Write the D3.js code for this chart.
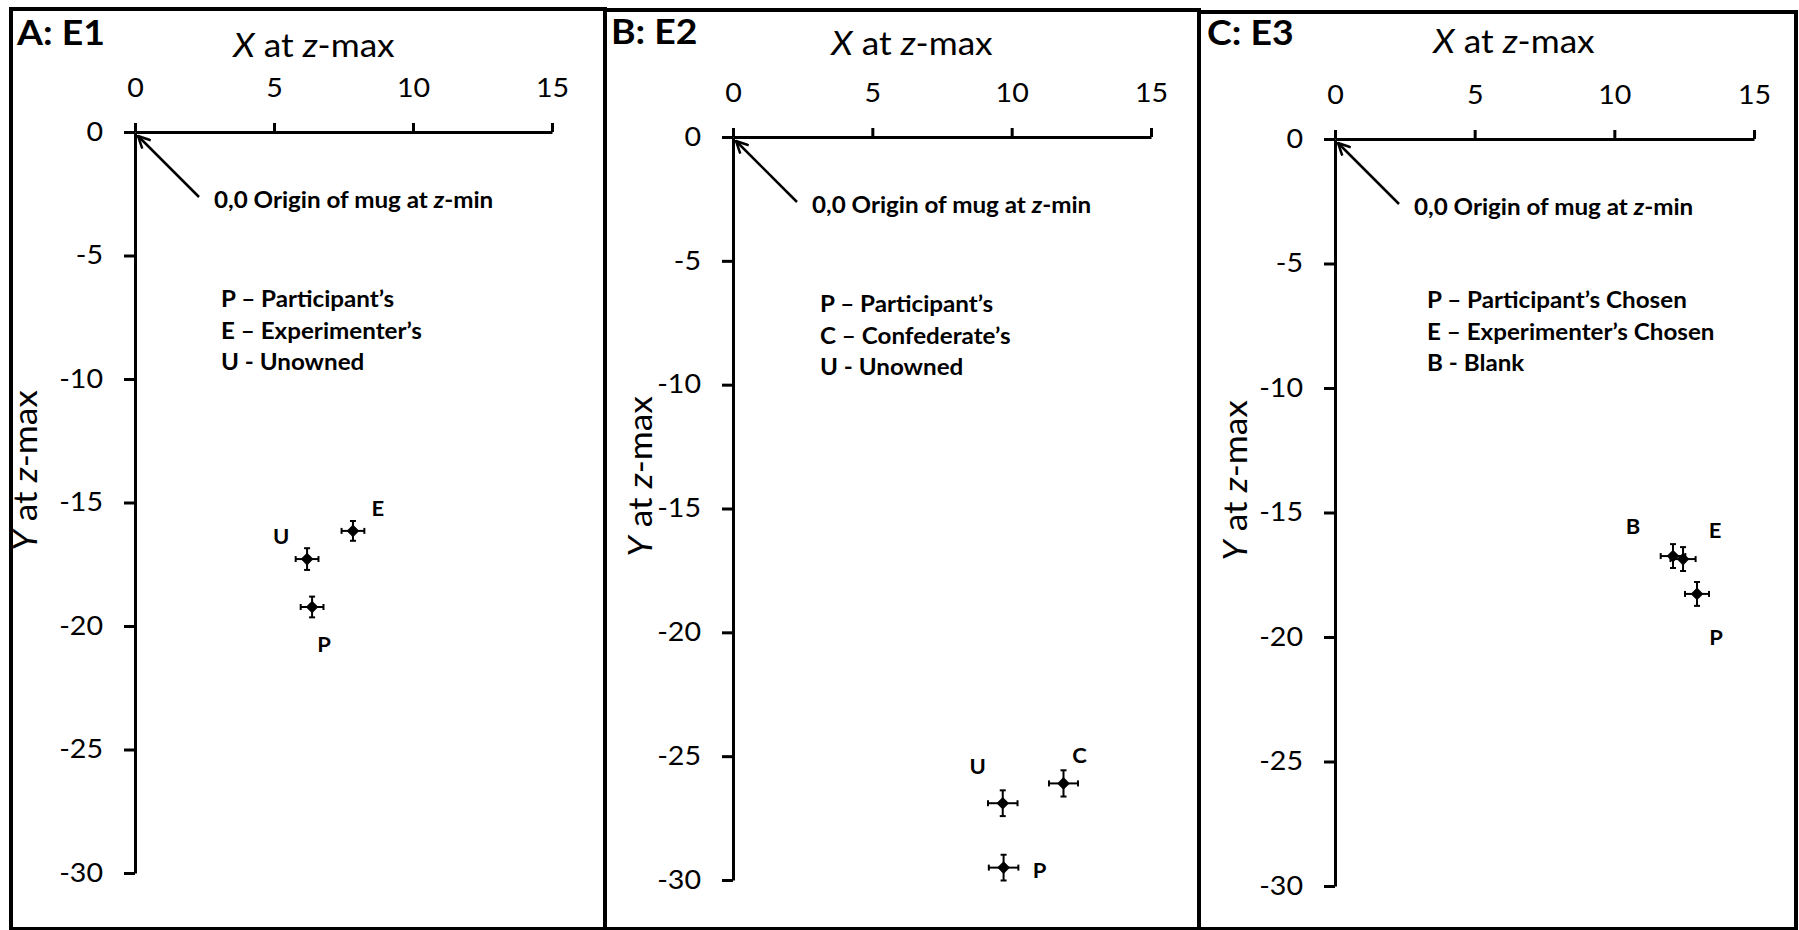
<!DOCTYPE html>
<html>
<head>
<meta charset="utf-8">
<script src="https://cdn.jsdelivr.net/npm/d3@7"></script>
<style>
  body { margin: 0; background: #fff; }
  svg { display: block; }
</style>
</head>
<body>
<div id="chart"></div>
<script>
// values
const xTicks = [0, 5, 10, 15];
const yTicks = [0, -5, -10, -15, -20, -25, -30];
const panelTitles = ['A: E1', 'B: E2', 'C: E3'];

const labelsA = ['E', 'U', 'P'];
const xValuesA = [7.84, 6.19, 6.37];
const yValuesA = [-16.15, -17.29, -19.23];
const xErrorsA = [0.41, 0.41, 0.41];
const yErrorsA = [0.40, 0.44, 0.42];
const legendA = ['P \u2013 Participant\u2019s', 'E \u2013 Experimenter\u2019s', 'U - Unowned'];

const labelsB = ['U', 'C', 'P'];
const xValuesB = [9.68, 11.86, 9.71];
const yValuesB = [-26.9, -26.1, -29.5];
const xErrorsB = [0.53, 0.52, 0.53];
const yErrorsB = [0.52, 0.53, 0.52];
const legendB = ['P \u2013 Participant\u2019s', 'C \u2013 Confederate\u2019s', 'U - Unowned'];

const labelsC = ['B', 'E', 'P'];
const xValuesC = [12.1, 12.46, 12.96];
const yValuesC = [-16.75, -16.87, -18.27];
const xErrorsC = [0.44, 0.45, 0.43];
const yErrorsC = [0.48, 0.48, 0.48];
const legendC = ['P \u2013 Participant\u2019s Chosen', 'E \u2013 Experimenter\u2019s Chosen', 'B - Blank'];

// where each panel sits on the page (pixels)
const layouts = [
    { frame: [11, 9, 605, 929], x0: 135, x15: 552, y0: 132, y30: 873,
      titleX: 17, titleY: 45, xTitleY: 57, yTitleX: 37, legendX: 221, legendY: 307,
      labelOffsets: [[25, -22], [-26, -22], [12, 38]] },
    { frame: [605, 10, 1199, 929], x0: 733, x15: 1151, y0: 137, y30: 880,
      titleX: 611, titleY: 44, xTitleY: 55, yTitleX: 652, legendX: 820, legendY: 312,
      labelOffsets: [[-25, -36], [16, -27], [36, 3]] },
    { frame: [1199, 12, 1796, 929], x0: 1335, x15: 1754, y0: 139, y30: 886,
      titleX: 1207, titleY: 45, xTitleY: 53, yTitleX: 1247, legendX: 1427, legendY: 308,
      labelOffsets: [[-40, -29], [32, -28], [19, 44]] }
];

const panels = [
    { title: panelTitles[0], labels: labelsA, xs: xValuesA, ys: yValuesA, xErr: xErrorsA, yErr: yErrorsA, legend: legendA },
    { title: panelTitles[1], labels: labelsB, xs: xValuesB, ys: yValuesB, xErr: xErrorsB, yErr: yErrorsB, legend: legendB },
    { title: panelTitles[2], labels: labelsC, xs: xValuesC, ys: yValuesC, xErr: xErrorsC, yErr: yErrorsC, legend: legendC }
];

const svgWidth = 1799;
const svgHeight = 930;
const FONT = 'Lato, "Open Sans", sans-serif';
const STRETCH = 1.1;   // the original figure is a bit wider than tall

const svg = d3.select('#chart')
    .append('svg')
    .attr('width', svgWidth)
    .attr('height', svgHeight);

svg.append('defs')
    .append('marker')
        .attr('id', 'openArrow')
        .attr('viewBox', '0 0 14 14')
        .attr('refX', 13)
        .attr('refY', 7)
        .attr('markerWidth', 14)
        .attr('markerHeight', 14)
        .attr('markerUnits', 'userSpaceOnUse')
        .attr('orient', 'auto')
        .append('path')
            .attr('d', 'M 1 1 L 13 7 L 1 13')
            .attr('fill', 'none')
            .attr('stroke', 'black')
            .attr('stroke-width', 2.5);

function addText(parent, x, y, size, weight, anchor, rotate) {
    return parent.append('text')
        .attr('transform', `translate(${x},${y})` + (rotate ? ` rotate(${rotate})` : '') + ` scale(${STRETCH},1)`)
        .attr('font-family', FONT)
        .attr('font-size', size)
        .attr('font-weight', weight)
        .attr('text-anchor', anchor)
        .attr('fill', 'black');
}

function drawPanel(layout, panel) {
    const g = svg.append('g');

    g.append('rect')
        .attr('x', layout.frame[0])
        .attr('y', layout.frame[1])
        .attr('width', layout.frame[2] - layout.frame[0])
        .attr('height', layout.frame[3] - layout.frame[1])
        .attr('fill', 'none')
        .attr('stroke', 'black')
        .attr('stroke-width', 4);

    const x = d3.scaleLinear().domain([0, 15]).range([layout.x0, layout.x15]);
    const y = d3.scaleLinear().domain([0, -30]).range([layout.y0, layout.y30]);

    // x axis on top
    const xAxis = g.append('g')
        .attr('transform', `translate(0,${y(0)})`)
        .call(d3.axisTop(x).tickValues(xTicks).tickSize(9).tickSizeOuter(0).tickPadding(26));

    // y axis, plain hyphen for negatives like the original
    const yAxis = g.append('g')
        .attr('transform', `translate(${x(0)},0)`)
        .call(d3.axisLeft(y).tickValues(yTicks).tickFormat(d => String(d))
            .tickSize(11).tickSizeOuter(0).tickPadding(21));

    [xAxis, yAxis].forEach(axis => {
        axis.attr('font-family', FONT).attr('font-size', 26);
        axis.select('.domain').attr('stroke-width', 3);
        axis.selectAll('.tick line').attr('stroke-width', 3);
        axis.selectAll('.tick text').attr('fill', 'black');
    });
    xAxis.selectAll('.tick text').attr('transform', `scale(${STRETCH},1)`);
    yAxis.selectAll('.tick text')
        .attr('x', -32 / STRETCH)
        .attr('transform', `scale(${STRETCH},1)`);

    // panel letter
    addText(g, layout.titleX, layout.titleY, 34, 'bold', 'start').text(panel.title);

    // axis titles
    const xTitle = addText(g, x(0) + 179, layout.xTitleY, 32, 'normal', 'middle');
    xTitle.append('tspan').attr('font-style', 'italic').text('X');
    xTitle.append('tspan').text(' at ');
    xTitle.append('tspan').attr('font-style', 'italic').text('z');
    xTitle.append('tspan').text('-max');

    const yTitle = addText(g, layout.yTitleX, (y(0) + y(-30)) / 2 - 32, 32, 'normal', 'middle', -90);
    yTitle.append('tspan').attr('font-style', 'italic').text('Y');
    yTitle.append('tspan').text(' at ');
    yTitle.append('tspan').attr('font-style', 'italic').text('z');
    yTitle.append('tspan').text('-max');

    // origin annotation
    g.append('line')
        .attr('x1', x(0) + 64)
        .attr('y1', y(0) + 65)
        .attr('x2', x(0) + 3)
        .attr('y2', y(0) + 4)
        .attr('stroke', 'black')
        .attr('stroke-width', 2.5)
        .attr('marker-end', 'url(#openArrow)');

    const note = addText(g, x(0) + 79, y(0) + 76, 22, 'bold', 'start');
    note.append('tspan').text('0,0 Origin of mug at ');
    note.append('tspan').attr('font-style', 'italic').text('z');
    note.append('tspan').text('-min');

    // legend lines
    panel.legend.forEach((line, i) => {
        addText(g, layout.legendX, layout.legendY + i * 31.5, 22, 'bold', 'start').text(line);
    });

    // points with error bars
    const points = panel.labels.map((label, i) => ({
        label: label,
        x: panel.xs[i],
        y: panel.ys[i],
        xErr: panel.xErr[i],
        yErr: panel.yErr[i],
        offset: layout.labelOffsets[i]
    }));

    const cap = 3;
    const pointGroups = g.selectAll('.point')
        .data(points)
        .join('g')
        .attr('class', 'point');

    pointGroups.append('line')
        .attr('x1', d => x(d.x - d.xErr))
        .attr('x2', d => x(d.x + d.xErr))
        .attr('y1', d => y(d.y))
        .attr('y2', d => y(d.y))
        .attr('stroke', 'black')
        .attr('stroke-width', 2);

    pointGroups.append('line')
        .attr('x1', d => x(d.x))
        .attr('x2', d => x(d.x))
        .attr('y1', d => y(d.y - d.yErr))
        .attr('y2', d => y(d.y + d.yErr))
        .attr('stroke', 'black')
        .attr('stroke-width', 2);

    // caps
    pointGroups.each(function (d) {
        const pg = d3.select(this);
        [d.x - d.xErr, d.x + d.xErr].forEach(v => {
            pg.append('line')
                .attr('x1', x(v)).attr('x2', x(v))
                .attr('y1', y(d.y) - cap).attr('y2', y(d.y) + cap)
                .attr('stroke', 'black').attr('stroke-width', 2);
        });
        [d.y - d.yErr, d.y + d.yErr].forEach(v => {
            pg.append('line')
                .attr('x1', x(d.x) - cap).attr('x2', x(d.x) + cap)
                .attr('y1', y(v)).attr('y2', y(v))
                .attr('stroke', 'black').attr('stroke-width', 2);
        });
    });

    pointGroups.append('path')
        .attr('d', d3.symbol().type(d3.symbolSquare).size(80))
        .attr('transform', d => `translate(${x(d.x)},${y(d.y)}) rotate(45)`)
        .attr('fill', 'black');

    pointGroups.each(function (d) {
        addText(d3.select(this), x(d.x) + d.offset[0], y(d.y) + d.offset[1] + 7, 20, 'bold', 'middle')
            .text(d.label);
    });
}

layouts.forEach((layout, i) => drawPanel(layout, panels[i]));
</script>
</body>
</html>
